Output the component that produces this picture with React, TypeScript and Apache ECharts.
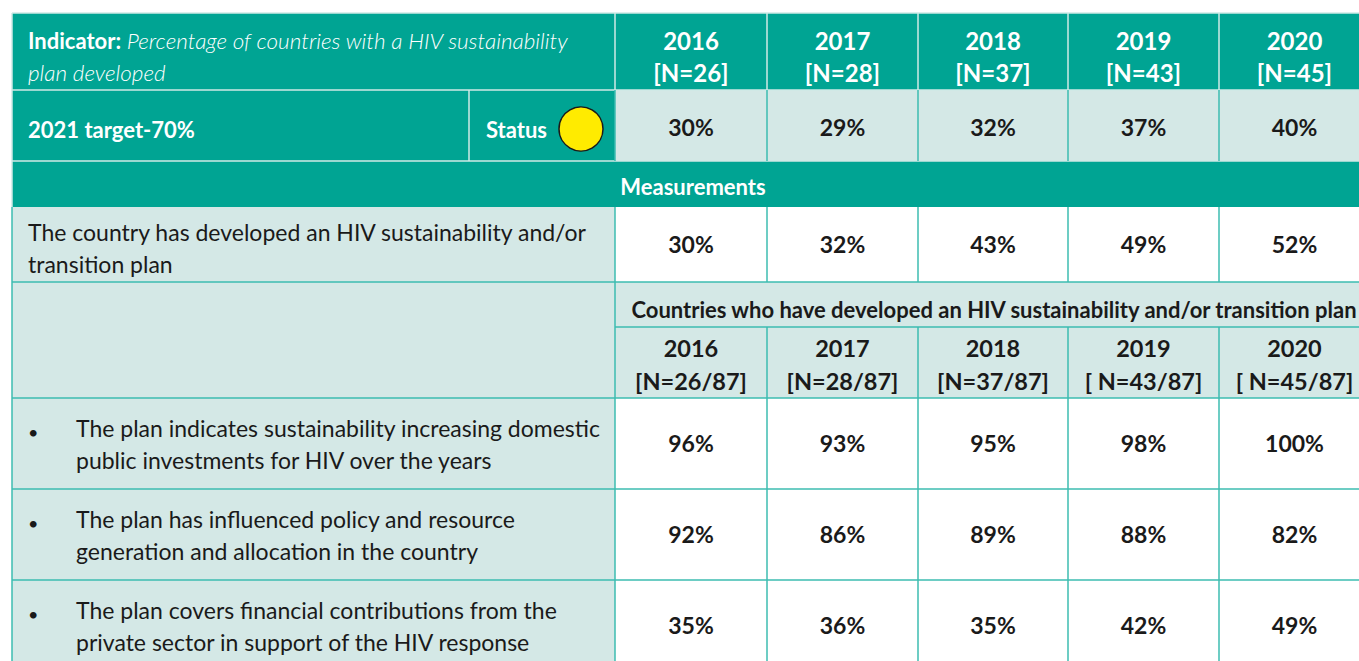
import React, { useEffect, useRef } from "react";
import * as echarts from "echarts";

const years = ["2016", "2017", "2018", "2019", "2020"];
const headerN = ["[N=26]", "[N=28]", "[N=37]", "[N=43]", "[N=45]"];
const indicatorValues = ["30%", "29%", "32%", "37%", "40%"];
const measurementValues = ["30%", "32%", "43%", "49%", "52%"];
const subN = ["[N=26/87]", "[N=28/87]", "[N=37/87]", "[ N=43/87]", "[ N=45/87]"];
const subRowLabels = [
  "The plan indicates sustainability increasing domestic\npublic investments for HIV over the years",
  "The plan has influenced policy and resource\ngeneration and allocation in the country",
  "The plan covers financial contributions from the\nprivate sector in support of the HIV response",
];
const subRowValues = [
  ["96%", "93%", "95%", "98%", "100%"],
  ["92%", "86%", "89%", "88%", "82%"],
  ["35%", "36%", "35%", "42%", "49%"],
];
const indicatorTitle = "Percentage of countries with a HIV sustainability";
const indicatorTitle2 = "plan developed";
const targetText = "2021 target-70%";
const measurementsText = "Measurements";
const measureLabel = "The country has developed an HIV sustainability and/or\ntransition plan";
const countriesText = "Countries who have developed an HIV sustainability and/or transition plan";

const TEAL = "#00A493";
const LIGHT = "#D4E8E6";
const LINE = "#3DBDB1";
const HLINE = "#CFEAE6";
const FONT = "Lato";

export default function App() {
  const ref = useRef<HTMLDivElement>(null);
  useEffect(() => {
    const chart = echarts.init(ref.current!, null, { renderer: "svg" });
    const colX = [12, 615, 767, 918, 1068, 1219, 1370];
    const rowY = [13, 90, 161, 207, 282, 327, 398, 489, 580, 671];
    const statusX = 469;
    const els: any[] = [];
    const rect = (x0: number, y0: number, x1: number, y1: number, fill: string) =>
      els.push({ type: "rect", shape: { x: x0, y: y0, width: x1 - x0, height: y1 - y0 }, style: { fill }, silent: true });
    const line = (x1: number, y1: number, x2: number, y2: number, stroke: string, w = 1.5) =>
      els.push({ type: "line", shape: { x1, y1, x2, y2 }, style: { stroke, lineWidth: w }, silent: true });
    const text = (x: number, y: number, t: string, o: any = {}) =>
      els.push({
        type: "text",
        x,
        y,
        style: {
          text: t,
          fill: o.fill || "#1a1a1a",
          font: `${o.style || "normal"} ${o.weight || "normal"} ${o.size || 23}px ${FONT}`,
          align: o.align || "center",
          verticalAlign: "middle",
          lineHeight: o.lh || 32,
          rich: o.rich,
        },
        silent: true,
      });

    // backgrounds
    rect(colX[0], rowY[0], colX[6], rowY[1], TEAL);
    rect(colX[0], rowY[1], colX[1], rowY[2], TEAL);
    rect(colX[1], rowY[1], colX[6], rowY[2], LIGHT);
    rect(colX[0], rowY[2], colX[6], rowY[3], TEAL);
    rect(colX[0], rowY[3], colX[1], rowY[4], LIGHT);
    rect(colX[1], rowY[3], colX[6], rowY[4], "#ffffff");
    rect(colX[0], rowY[4], colX[6], rowY[6], LIGHT);
    for (let r = 0; r < 3; r++) {
      rect(colX[0], rowY[6 + r], colX[1], rowY[7 + r], LIGHT);
      rect(colX[1], rowY[6 + r], colX[6], rowY[7 + r], "#ffffff");
    }

    // header lines (light)
    line(colX[0], rowY[0], colX[6], rowY[0], HLINE);
    line(colX[0], rowY[1], colX[6], rowY[1], HLINE);
    line(colX[0], rowY[2], colX[6], rowY[2], HLINE);
    for (let c = 1; c <= 5; c++) line(colX[c], rowY[0], colX[c], rowY[1], HLINE);
    line(statusX, rowY[1], statusX, rowY[2], HLINE);
    line(colX[0], rowY[0], colX[0], rowY[3], HLINE);
    // body lines (teal)
    for (let c = 2; c <= 5; c++) line(colX[c], rowY[1], colX[c], rowY[2], LINE);
    line(colX[1], rowY[1], colX[1], rowY[2], LINE);
    line(colX[0], rowY[3], colX[0], rowY[9], LINE);
    line(colX[1], rowY[3], colX[1], rowY[9], LINE);
    for (let c = 2; c <= 5; c++) {
      line(colX[c], rowY[3], colX[c], rowY[4], LINE);
      line(colX[c], rowY[5], colX[c], rowY[9], LINE);
    }
    line(colX[0], rowY[4], colX[6], rowY[4], LINE);
    line(colX[1], rowY[5], colX[6], rowY[5], LINE);
    for (let r = 6; r <= 8; r++) line(colX[0], rowY[r], colX[6], rowY[r], LINE);

    // header text
    text(28, 56, `{b|Indicator:}{i| ${indicatorTitle}}\n{i|${indicatorTitle2}}`, {
      align: "left",
      fill: "#ffffff",
      rich: {
        b: { font: `normal bold 22px ${FONT}`, fill: "#ffffff", lineHeight: 32 },
        i: { font: `italic 300 22.5px ${FONT}`, fill: "#ffffff", lineHeight: 32 },
      },
    });
    const cx = (c: number) => (colX[c] + colX[c + 1]) / 2;
    years.forEach((y, i) => {
      text(cx(i + 1), 56, `${y}\n${headerN[i]}`, { fill: "#ffffff", weight: "bold", size: 24 });
      text(cx(i + 1), 127, indicatorValues[i], { weight: "bold", size: 23 });
      text(cx(i + 1), 244, measurementValues[i], { weight: "bold", size: 23 });
      text(cx(i + 1), 364, `${y}\n${subN[i]}`, { weight: "bold", size: 23.5, lh: 33 });
      subRowValues.forEach((vals, r) => {
        text(cx(i + 1), (rowY[6 + r] + Math.min(rowY[7 + r], 671)) / 2 - 1, vals[i], { weight: "bold", size: 23 });
      });
    });
    text(28, 129, targetText, { align: "left", fill: "#ffffff", weight: "bold", size: 22 });
    text(486, 129, "Status", { align: "left", fill: "#ffffff", weight: "bold", size: 22 });
    els.push({
      type: "circle",
      shape: { cx: 581, cy: 129, r: 22 },
      style: { fill: "#FFEB00", stroke: "#1a1a1a", lineWidth: 1.5 },
      silent: true,
    });
    text(693, 186, measurementsText, { fill: "#ffffff", weight: "bold", size: 22 });
    text(28, 248, measureLabel, { align: "left", size: 23 });
    text(994, 309, countriesText, { weight: "bold", size: 22 });
    subRowLabels.forEach((lbl, r) => {
      const yc = (rowY[6 + r] + rowY[7 + r]) / 2;
      text(28, yc - 12, "•", { align: "left", size: 18 });
      text(76, yc, lbl, { align: "left", size: 23 });
    });

    chart.setOption({ animation: false, graphic: { elements: els } });
    return () => chart.dispose();
  }, []);
  return (
    <div
      ref={ref}
      style={{ position: "absolute", left: 0, top: 0, width: 1359, height: 661, background: "#ffffff" }}
    />
  );
}
